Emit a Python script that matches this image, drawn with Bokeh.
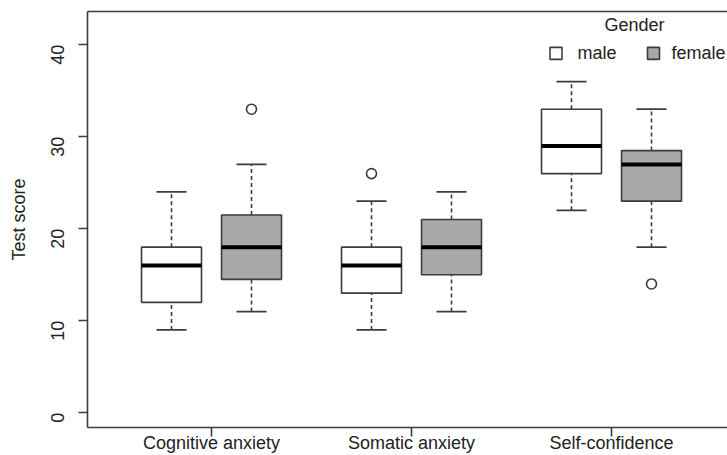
import math
from bokeh.plotting import figure
from bokeh.models import ColumnDataSource, FixedTicker, Range1d, LinearAxis
from bokeh.core.properties import value
from bokeh.embed import file_html
from bokeh.resources import INLINE

# ---- data ----
categories = ["Cognitive anxiety", "Somatic anxiety", "Self-confidence"]
genders = ["male", "female"]

male_low = [9, 9, 22]
male_q1 = [12, 13, 26]
male_median = [16, 16, 29]
male_q3 = [18, 18, 33]
male_high = [24, 23, 36]

female_low = [11, 11, 18]
female_q1 = [14.5, 15, 23]
female_median = [18, 18, 27]
female_q3 = [21.5, 21, 28.5]
female_high = [27, 24, 33]

male_outlier_cat = [2]
male_outlier_val = [26]
female_outlier_cat = [1, 3]
female_outlier_val = [33, 14]

y_ticks = [0, 10, 20, 30, 40]

# ---- style ----
FONT = "Liberation Sans"
LINE = "#3c3c3c"
TEXT = "#222222"
FILLS = {"male": "#ffffff", "female": "#a9a9a9"}
OFFSET = {"male": -0.2, "female": 0.2}
BOX_W = 0.3
CAP_W = 0.15
Y0, Y1 = -1.605, 43.62

p = figure(width=727, height=455, output_backend="svg", toolbar_location=None,
           x_range=Range1d(0.38, 3.58), y_range=Range1d(Y0, Y1),
           min_border_left=87, min_border_right=0, min_border_top=11,
           min_border_bottom=27)
p.grid.visible = False
p.outline_line_color = None
p.background_fill_color = "white"
p.border_fill_color = "white"

series = {
    "male": (male_low, male_q1, male_median, male_q3, male_high),
    "female": (female_low, female_q1, female_median, female_q3, female_high),
}
cat_pos = [i + 1 for i in range(len(categories))]

for g in genders:
    low, q1, med, q3, high = series[g]
    xs = [c + OFFSET[g] for c in cat_pos]
    src = ColumnDataSource(dict(
        x=xs, low=low, q1=q1, med=med, q3=q3, high=high,
        left=[x - BOX_W / 2 for x in xs], right=[x + BOX_W / 2 for x in xs],
        cl=[x - CAP_W / 2 for x in xs], cr=[x + CAP_W / 2 for x in xs],
    ))
    p.segment(x0="x", y0="q3", x1="x", y1="high", source=src, line_color=LINE,
              line_width=1.6, line_dash="4 3")
    p.segment(x0="x", y0="low", x1="x", y1="q1", source=src, line_color=LINE,
              line_width=1.6, line_dash="4 3")
    p.segment(x0="cl", y0="high", x1="cr", y1="high", source=src, line_color=LINE, line_width=1.8)
    p.segment(x0="cl", y0="low", x1="cr", y1="low", source=src, line_color=LINE, line_width=1.8)
    p.quad(left="left", right="right", bottom="q1", top="q3", source=src,
           fill_color=FILLS[g], line_color=LINE, line_width=1.6)
    p.segment(x0="left", y0="med", x1="right", y1="med", source=src,
              line_color="#000000", line_width=4)

p.scatter([c + OFFSET["male"] for c in male_outlier_cat], male_outlier_val,
          marker="circle", size=10, fill_color="white", line_color=LINE, line_width=1.6)
p.scatter([c + OFFSET["female"] for c in female_outlier_cat], female_outlier_val,
          marker="circle", size=10, fill_color="white", line_color=LINE, line_width=1.6)

# legend
p.text(x=[3.115], y=[42.1], text=["Gender"], text_font=value(FONT), text_font_size="18px",
       text_color=TEXT, text_align="center", text_baseline="middle")
p.scatter(x=[2.7225, 3.21], y=[39.07, 39.07], marker="square", size=12,
          fill_color=[FILLS[g] for g in genders], line_color=LINE, line_width=1.6)
p.text(x=[2.83, 3.30], y=[39.07, 39.07], text=genders, text_font=value(FONT),
       text_font_size="18px", text_color=TEXT, text_align="left", text_baseline="middle")

# x axis
xa = p.xaxis[0]
xa.ticker = FixedTicker(ticks=cat_pos)
xa.major_label_overrides = {c: name for c, name in zip(cat_pos, categories)}
xa.minor_tick_line_color = None
xa.major_tick_in = 0
xa.major_tick_out = 9
xa.major_tick_line_color = LINE
xa.major_tick_line_width = 1.6
xa.axis_line_color = LINE
xa.axis_line_width = 1.6
xa.major_label_standoff = -4
xa.major_label_text_font = FONT
xa.major_label_text_font_size = "18px"
xa.major_label_text_color = TEXT

# top border line (box of the plot)
top = LinearAxis(ticker=FixedTicker(ticks=[]), major_tick_out=0, major_tick_in=0,
                 minor_tick_out=0, minor_tick_in=0, major_label_text_font_size="0px",
                 axis_line_color=LINE, axis_line_width=1.6)
p.add_layout(top, "above")

# y axis
ya = p.yaxis[0]
ya.ticker = FixedTicker(ticks=y_ticks)
ya.minor_tick_line_color = None
ya.major_tick_in = 0
ya.major_tick_out = 9
ya.major_tick_line_color = LINE
ya.major_tick_line_width = 1.6
ya.axis_line_color = LINE
ya.axis_line_width = 1.6
ya.major_label_orientation = math.pi / 2
ya.major_label_standoff = 21
ya.major_label_text_font = FONT
ya.major_label_text_font_size = "18px"
ya.major_label_text_color = TEXT
ya.axis_label = "Test score"
ya.axis_label_standoff = 13
ya.axis_label_text_font = FONT
ya.axis_label_text_font_size = "18px"
ya.axis_label_text_font_style = "normal"
ya.axis_label_text_color = TEXT

open("out.html", "w").write(file_html(p, INLINE))
